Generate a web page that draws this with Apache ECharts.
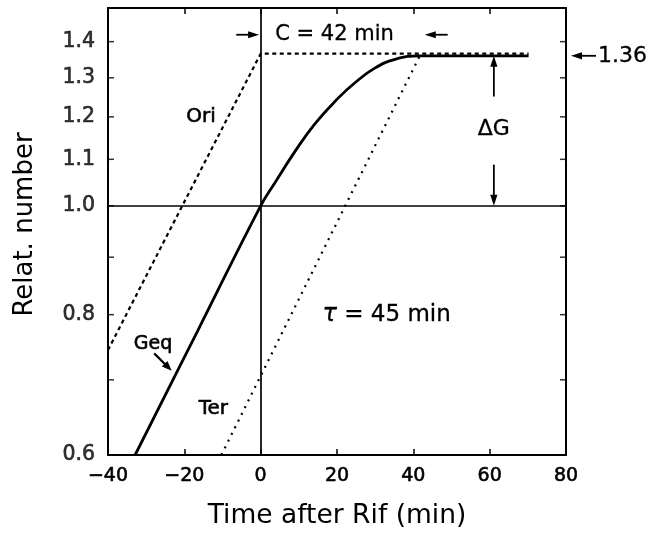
<!DOCTYPE html>
<html><head><meta charset="utf-8">
<script src="https://cdn.jsdelivr.net/npm/echarts@6/dist/echarts.min.js"></script>
<style>html,body{margin:0;padding:0;background:#fff}#c{width:658px;height:536px}</style>
</head><body><div id="c"></div>
<script>
// ---- data ----
const xMin = -40, xMax = 80, xStep = 20;
const yMin = 0.6, yMax = 1.5;
const yTickLabels = [0.6, 0.8, 1.0, 1.1, 1.2, 1.3, 1.4];
const yMinorTicks = [0.7, 0.9];
const geqX = [-32.9, -16.5, 0, 3.7, 9.0, 14.2, 20.3, 24.7, 29.9, 35.2, 41.7, 70.2];
const geqY = [0.60, 0.774, 1.00, 1.048, 1.118, 1.183, 1.247, 1.287, 1.326, 1.350, 1.360, 1.360];
const oriX = [-40, 0, 70.2];
const oriY = [0.744, 1.366, 1.366];
const terX = [-10.3, 41.7, 70.2];
const terY = [0.60, 1.36, 1.36];
const plateauValue = 1.36;

const FONT = 'DejaVu Sans';
const HEAVY = {textBorderColor: '#000', textBorderWidth: 0.6};
const chart = echarts.init(document.getElementById('c'), null, {renderer: 'canvas'});
const zip = (a, b) => a.map((v, i) => [v, b[i]]);
const allTicks = yTickLabels.concat(yMinorTicks);

function tickSeries(x, offset, withLabels) {
  return {
    type: 'scatter', silent: true, z: 5, clip: false,
    data: allTicks.map(v => ({value: [x, v], label: {show: withLabels && yTickLabels.includes(v)}})),
    symbol: 'rect', symbolSize: [6, 1.5], symbolOffset: [offset, 0],
    itemStyle: {color: '#000'},
    label: Object.assign({position: 'left', distance: 13, formatter: p => p.value[1].toFixed(1),
            color: '#000', fontFamily: FONT, fontSize: 20.5}, HEAVY),
    emphasis: {disabled: true}
  };
}

const xAxisBase = {
  type: 'value', min: xMin, max: xMax, interval: xStep,
  axisLine: {show: true, onZero: false, lineStyle: {color: '#000', width: 2}},
  axisTick: {show: true, inside: true, length: 6, lineStyle: {color: '#000', width: 1.5}},
  splitLine: {show: false}
};
const yAxisBase = {
  type: 'log', logBase: 10, min: yMin, max: yMax,
  axisLine: {show: true, onZero: false, lineStyle: {color: '#000', width: 2}},
  axisTick: {show: false}, axisLabel: {show: false}, splitLine: {show: false}
};

chart.setOption({
  animation: false,
  backgroundColor: '#fff',
  grid: {left: 108, right: 92, top: 8, bottom: 81, containLabel: false, outerBoundsMode: 'none'},
  xAxis: [
    Object.assign({}, xAxisBase, {
      position: 'bottom',
      axisLabel: Object.assign({color: '#000', fontFamily: FONT, fontSize: 19, margin: 12,
                  formatter: v => String(v).replace('-', '\u2212')}, HEAVY),
      name: 'Time after Rif (min)', nameLocation: 'middle', nameGap: 48,
      nameTextStyle: {color: '#000', fontFamily: FONT, fontSize: 26.5}
    }),
    Object.assign({}, xAxisBase, {position: 'top', axisLabel: {show: false}})
  ],
  yAxis: [
    Object.assign({}, yAxisBase, {
      position: 'left',
      name: 'Relat. number', nameLocation: 'middle', nameGap: 70, nameRotate: 90,
      nameTextStyle: {color: '#000', fontFamily: FONT, fontSize: 26, padding: [0, 0, 0, 14]}
    }),
    Object.assign({}, yAxisBase, {position: 'right'})
  ],
  series: [
    {
      name: 'Geq', type: 'line', data: zip(geqX, geqY), showSymbol: false, symbol: 'none',
      smooth: 0.45,
      lineStyle: {color: '#000', width: 2.8}, z: 4, silent: true,
      markLine: {
        silent: true, symbol: ['none', 'none'], label: {show: false},
        lineStyle: {color: '#000', width: 1.7, type: 'solid'},
        data: [{xAxis: 0}, {yAxis: 1}]
      }
    },
    {
      name: 'Ori', type: 'line', data: zip(oriX, oriY), showSymbol: false, symbol: 'none',
      lineStyle: {color: '#000', width: 2.2, type: [4, 3.5]}, z: 3, silent: true
    },
    {
      name: 'Ter', type: 'line', data: zip(terX, terY), showSymbol: false, symbol: 'none',
      lineStyle: {color: '#000', width: 2.2, type: [2, 5.5]}, z: 3, silent: true
    },
    tickSeries(xMin, 3, true),
    tickSeries(xMax, -3, false)
  ]
});

// ---- annotations (placed in data coordinates) ----
const P = (x, y) => chart.convertToPixel({gridIndex: 0}, [x, y]);
function arrow(p0, p1, head, w, lw) {
  head = head || 11; w = w || 3.6; lw = lw || 1.8;
  const dx = p1[0] - p0[0], dy = p1[1] - p0[1];
  const L = Math.hypot(dx, dy), ux = dx / L, uy = dy / L;
  const bx = p1[0] - ux * head, by = p1[1] - uy * head;
  return [
    {type: 'line', silent: true, shape: {x1: p0[0], y1: p0[1], x2: bx + ux, y2: by + uy},
     style: {stroke: '#000', lineWidth: lw}},
    {type: 'polygon', silent: true, shape: {points: [[p1[0], p1[1]], [bx - uy * w, by + ux * w], [bx + uy * w, by - ux * w]]},
     style: {fill: '#000'}}
  ];
}
function text(p, str, size, align, extra) {
  return Object.assign({type: 'text', silent: true, x: p[0], y: p[1],
    style: Object.assign({text: str, fontFamily: FONT, fontSize: size, fill: '#000',
      align: align || 'center', verticalAlign: 'middle'}, extra || {})});
}
const heavy = {stroke: '#000', lineWidth: 0.6};
const light = {stroke: '#000', lineWidth: 0.3};
const edge = P(xMax, plateauValue);
const g = [];
g.push(text(P(3.8, 1.42), 'C = 42 min', 21, 'left', light));
g.push(...arrow(P(-6.4, 1.42), P(-0.4, 1.42)));
g.push(...arrow(P(49, 1.42), P(43, 1.42)));
g.push(text(P(61.1, 1.169), 'ΔG', 22, 'center', light));
g.push(...arrow(P(61.1, 1.251), P(61.1, 1.36)));
g.push(...arrow(P(61.1, 1.088), P(61.1, 1.0)));
g.push(text(P(-15.6, 1.2), 'Ori', 20, 'center', heavy));
g.push(text(P(-28.2, 0.753), 'Geq', 19, 'center', heavy));
g.push(...arrow(P(-27.9, 0.739), P(-23.3, 0.713), 10, 4, 2.2));
g.push(text(P(-12.4, 0.66), 'Ter', 20, 'center', heavy));
g.push(text(P(33, 0.8), '{i|τ} = 45 min', 23, 'center',
  Object.assign({rich: {i: {fontStyle: 'italic', fontSize: 24, fontFamily: FONT, fill: '#000'}}}, light)));
g.push(...arrow([edge[0] + 30, edge[1]], [edge[0] + 5, edge[1]]));
g.push(text([edge[0] + 32, edge[1]], '1.36', 22, 'left', light));
chart.setOption({graphic: {elements: g}});
</script>
</body></html>
